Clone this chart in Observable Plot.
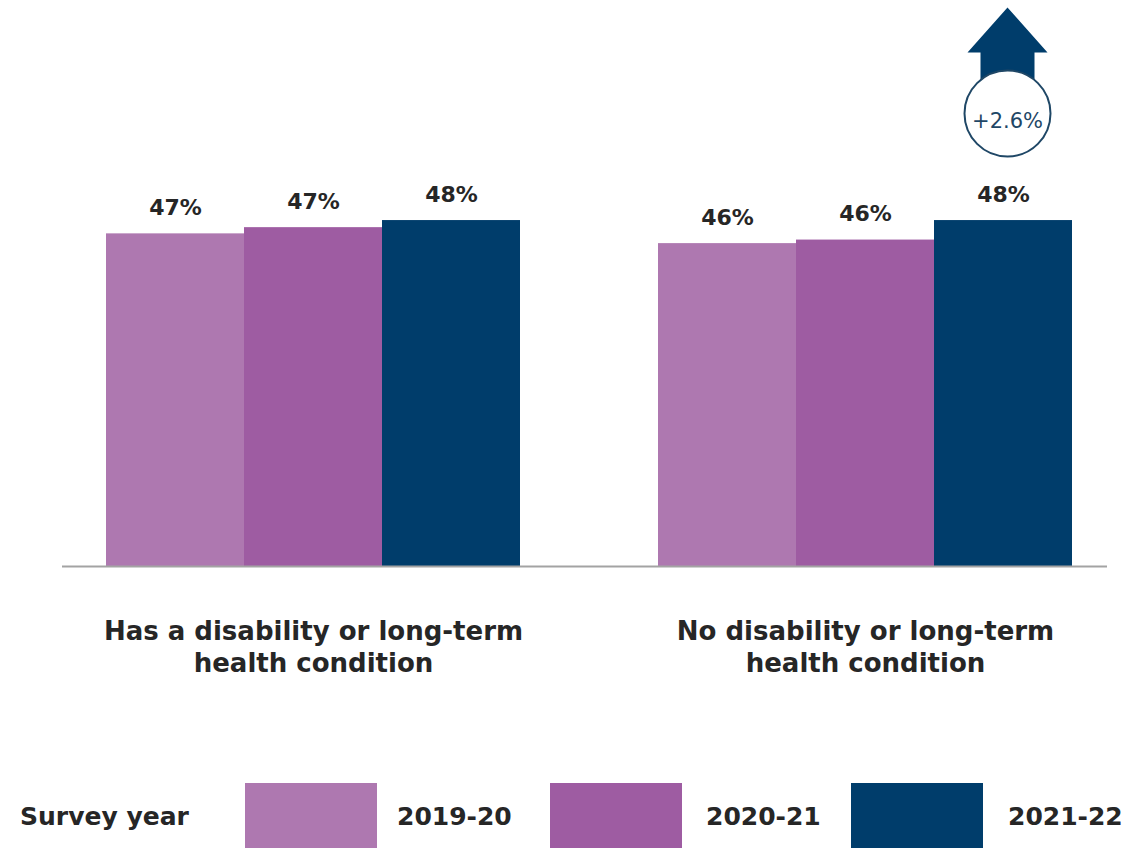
<!DOCTYPE html>
<html>
<head>
<meta charset="utf-8">
<script src="https://cdn.jsdelivr.net/npm/d3@7"></script>
<script src="https://cdn.jsdelivr.net/npm/@observablehq/plot@0.6"></script>
<style>
  html, body { margin: 0; padding: 0; background: #fff; overflow: hidden; }
  body { width: 1137px; height: 848px; font-family: "DejaVu Sans", sans-serif; }
  #legend { position: relative; width: 1137px; height: 78px; color: #262626; font-weight: 700; font-size: 25px; }
  #legend .sw { position: absolute; top: 13px; width: 132px; height: 65px; }
  #legend .lb { position: absolute; top: 30px; line-height: 34px; white-space: nowrap; }
</style>
</head>
<body>
<div id="chart"></div>
<div id="legend"></div>
<script>
// ---- data ----
const groups = ["Has a disability or long-term\nhealth condition", "No disability or long-term\nhealth condition"];
const years = ["2019-20", "2020-21", "2021-22"];
const hasDisability = [46.6, 47.3, 48.1];
const noDisability = [45.5, 45.9, 48.1];
const hasDisabilityLabels = ["47%", "47%", "48%"];
const noDisabilityLabels = ["46%", "46%", "48%"];
const yearColors = ["#ae78b0", "#9e5ca2", "#003d6b"];
const changeLabel = "+2.6%";
const legendTitle = "Survey year";
const axisFloor = 9.1;

// ---- table ----
const seriesValues = [hasDisability, noDisability];
const seriesLabels = [hasDisabilityLabels, noDisabilityLabels];
const rows = [];
groups.forEach((g, gi) => years.forEach((y, yi) => rows.push({
  group: g, year: y, key: g + "|" + y, value: seriesValues[gi][yi], label: seriesLabels[gi][yi]
})));
const xDomain = [...years.map(y => groups[0] + "|" + y), "gap", ...years.map(y => groups[1] + "|" + y)];
const groupLines = groups.flatMap(g => g.split("\n").map((line, li) => ({line, li, key: g + "|" + years[1]})));
const lastKey = groups[1] + "|" + years[2];

const blockArrow = {
  draw(context, l) {
    const hw = 40, hh = 45, sw = 27;
    context.moveTo(0, -l);
    context.lineTo(hw, -l + hh);
    context.lineTo(sw, -l + hh);
    context.lineTo(sw, 0);
    context.lineTo(-sw, 0);
    context.lineTo(-sw, -l + hh);
    context.lineTo(-hw, -l + hh);
    context.closePath();
  }
};

const font = '"DejaVu Sans", sans-serif';
const ink = "#262626";
const chart = Plot.plot({
  width: 1137,
  height: 770,
  marginLeft: 62,
  marginRight: 30,
  marginTop: 0,
  marginBottom: 0,
  style: {fontFamily: font, background: "#fff", overflow: "visible"},
  x: {domain: xDomain, range: [105, 1073], padding: 0, axis: null},
  y: {domain: [axisFloor, 50], range: [566, 203.2], axis: null},
  color: {domain: years, range: yearColors},
  marks: [
    Plot.barY(rows, {x: "key", y1: axisFloor, y2: "value", fill: "year"}),
    Plot.ruleY([axisFloor], {stroke: "#a3a3a3", strokeWidth: 2}),
    Plot.text(rows, {x: "key", y: "value", text: "label", dy: -26, fontSize: 22, fontWeight: 700, fill: ink}),
    Plot.text(groupLines.filter(d => d.li === 0), {x: "key", y: axisFloor, text: "line", dy: 65, fontSize: 26, fontWeight: 700, fill: ink}),
    Plot.text(groupLines.filter(d => d.li === 1), {x: "key", y: axisFloor, text: "line", dy: 97, fontSize: 26, fontWeight: 700, fill: ink}),
    Plot.vector([changeLabel], {x: () => lastKey, frameAnchor: "top", anchor: "end", dx: 4, dy: 7, length: 80, shape: blockArrow, fill: "#003d6b", stroke: "none"}),
    Plot.dot([changeLabel], {x: () => lastKey, frameAnchor: "top", dx: 4, dy: 113, r: 43, fill: "#fff", stroke: "#1f4766", strokeWidth: 2}),
    Plot.text([changeLabel], {x: () => lastKey, frameAnchor: "top", dx: 4, dy: 113, text: d => d, fontSize: 21, fontWeight: 400, fill: "#1f4766"})
  ]
});
document.getElementById("chart").appendChild(chart);

// ---- legend ----
const legend = document.getElementById("legend");
const swatchLeft = [245, 550, 851];
const labelLeft = [397, 706, 1008];
const title = document.createElement("div");
title.className = "lb"; title.style.left = "20px"; title.textContent = legendTitle;
legend.appendChild(title);
years.forEach((y, i) => {
  const sw = document.createElement("div");
  sw.className = "sw"; sw.style.left = swatchLeft[i] + "px"; sw.style.background = yearColors[i];
  legend.appendChild(sw);
  const lb = document.createElement("div");
  lb.className = "lb"; lb.style.left = labelLeft[i] + "px"; lb.textContent = y;
  legend.appendChild(lb);
});
</script>
</body>
</html>
